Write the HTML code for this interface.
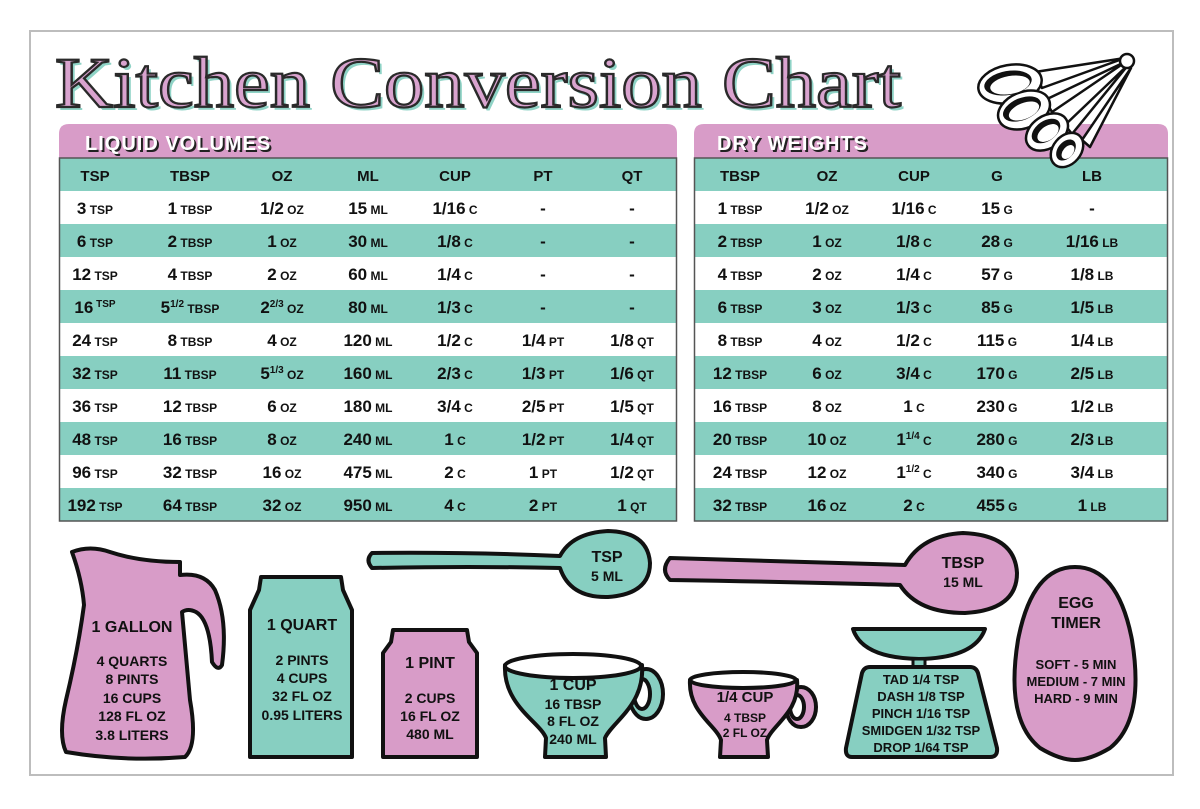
<!DOCTYPE html>
<html><head><meta charset="utf-8">
<style>
html,body{margin:0;padding:0;background:#fff;}
svg{display:block;}
text{font-family:"Liberation Sans",sans-serif;font-weight:bold;fill:#111;}
.n{font-size:17px;}
.u{font-size:12px;}
.s{font-size:10px;}
.h{font-size:15px;}
.t{font-size:14px;}
.b{font-size:16px;}
</style></head>
<body>
<svg width="1200" height="809" viewBox="0 0 1200 809" xmlns="http://www.w3.org/2000/svg">
<rect x="0" y="0" width="1200" height="809" fill="#fff"/>
<rect x="30" y="31" width="1143" height="744" fill="#fff" stroke="#bdbdbd" stroke-width="2"/>

<!-- Title -->
<text x="58" y="110" textLength="846" lengthAdjust="spacingAndGlyphs" style="font-family:'Liberation Serif',serif;font-weight:normal;font-size:72px;fill:#8fd3c6;">Kitchen Conversion Chart</text>
<text x="55" y="107" textLength="846" lengthAdjust="spacingAndGlyphs" style="font-family:'Liberation Serif',serif;font-weight:normal;font-size:72px;fill:#d9a3cf;stroke:#2a2a2a;stroke-width:2.2px;">Kitchen Conversion Chart</text>

<!-- LIQUID TABLE -->
<path d="M59 158 V134 Q59 124 69 124 H667 Q677 124 677 134 V158 Z" fill="#d89cc8"/>
<text x="87" y="152" style="font-size:20px;fill:#222;letter-spacing:1px;">LIQUID VOLUMES</text>
<text x="85" y="150" style="font-size:20px;fill:#fff;letter-spacing:1px;">LIQUID VOLUMES</text>
<g fill="#87cfc1">
<rect x="59" y="158" width="618" height="33"/>
<rect x="59" y="224" width="618" height="33"/>
<rect x="59" y="290" width="618" height="33"/>
<rect x="59" y="356" width="618" height="33"/>
<rect x="59" y="422" width="618" height="33"/>
<rect x="59" y="488" width="618" height="33"/>
</g>
<rect x="59.5" y="158" width="617" height="363" fill="none" stroke="#555" stroke-width="1.5"/>

<g text-anchor="middle">
<g transform="translate(0,181)" class="h">
<text x="95" class="h">TSP</text><text x="190" class="h">TBSP</text><text x="282" class="h">OZ</text><text x="368" class="h">ML</text><text x="455" class="h">CUP</text><text x="543" class="h">PT</text><text x="632" class="h">QT</text>
</g>
<g transform="translate(0,214)">
<text x="95" class="n">3<tspan class="u"> TSP</tspan></text><text x="190" class="n">1<tspan class="u"> TBSP</tspan></text><text x="282" class="n">1/2<tspan class="u"> OZ</tspan></text><text x="368" class="n">15<tspan class="u"> ML</tspan></text><text x="455" class="n">1/16<tspan class="u"> C</tspan></text><text x="543" class="n">-</text><text x="632" class="n">-</text>
</g>
<g transform="translate(0,247)">
<text x="95" class="n">6<tspan class="u"> TSP</tspan></text><text x="190" class="n">2<tspan class="u"> TBSP</tspan></text><text x="282" class="n">1<tspan class="u"> OZ</tspan></text><text x="368" class="n">30<tspan class="u"> ML</tspan></text><text x="455" class="n">1/8<tspan class="u"> C</tspan></text><text x="543" class="n">-</text><text x="632" class="n">-</text>
</g>
<g transform="translate(0,280)">
<text x="95" class="n">12<tspan class="u"> TSP</tspan></text><text x="190" class="n">4<tspan class="u"> TBSP</tspan></text><text x="282" class="n">2<tspan class="u"> OZ</tspan></text><text x="368" class="n">60<tspan class="u"> ML</tspan></text><text x="455" class="n">1/4<tspan class="u"> C</tspan></text><text x="543" class="n">-</text><text x="632" class="n">-</text>
</g>
<g transform="translate(0,313)">
<text x="95" class="n">16<tspan class="s" dy="-6"> TSP</tspan></text><text x="190" class="n">5<tspan class="s" dy="-6">1/2</tspan><tspan class="u" dy="6"> TBSP</tspan></text><text x="282" class="n">2<tspan class="s" dy="-6">2/3</tspan><tspan class="u" dy="6"> OZ</tspan></text><text x="368" class="n">80<tspan class="u"> ML</tspan></text><text x="455" class="n">1/3<tspan class="u"> C</tspan></text><text x="543" class="n">-</text><text x="632" class="n">-</text>
</g>
<g transform="translate(0,346)">
<text x="95" class="n">24<tspan class="u"> TSP</tspan></text><text x="190" class="n">8<tspan class="u"> TBSP</tspan></text><text x="282" class="n">4<tspan class="u"> OZ</tspan></text><text x="368" class="n">120<tspan class="u"> ML</tspan></text><text x="455" class="n">1/2<tspan class="u"> C</tspan></text><text x="543" class="n">1/4<tspan class="u"> PT</tspan></text><text x="632" class="n">1/8<tspan class="u"> QT</tspan></text>
</g>
<g transform="translate(0,379)">
<text x="95" class="n">32<tspan class="u"> TSP</tspan></text><text x="190" class="n">11<tspan class="u"> TBSP</tspan></text><text x="282" class="n">5<tspan class="s" dy="-6">1/3</tspan><tspan class="u" dy="6"> OZ</tspan></text><text x="368" class="n">160<tspan class="u"> ML</tspan></text><text x="455" class="n">2/3<tspan class="u"> C</tspan></text><text x="543" class="n">1/3<tspan class="u"> PT</tspan></text><text x="632" class="n">1/6<tspan class="u"> QT</tspan></text>
</g>
<g transform="translate(0,412)">
<text x="95" class="n">36<tspan class="u"> TSP</tspan></text><text x="190" class="n">12<tspan class="u"> TBSP</tspan></text><text x="282" class="n">6<tspan class="u"> OZ</tspan></text><text x="368" class="n">180<tspan class="u"> ML</tspan></text><text x="455" class="n">3/4<tspan class="u"> C</tspan></text><text x="543" class="n">2/5<tspan class="u"> PT</tspan></text><text x="632" class="n">1/5<tspan class="u"> QT</tspan></text>
</g>
<g transform="translate(0,445)">
<text x="95" class="n">48<tspan class="u"> TSP</tspan></text><text x="190" class="n">16<tspan class="u"> TBSP</tspan></text><text x="282" class="n">8<tspan class="u"> OZ</tspan></text><text x="368" class="n">240<tspan class="u"> ML</tspan></text><text x="455" class="n">1<tspan class="u"> C</tspan></text><text x="543" class="n">1/2<tspan class="u"> PT</tspan></text><text x="632" class="n">1/4<tspan class="u"> QT</tspan></text>
</g>
<g transform="translate(0,478)">
<text x="95" class="n">96<tspan class="u"> TSP</tspan></text><text x="190" class="n">32<tspan class="u"> TBSP</tspan></text><text x="282" class="n">16<tspan class="u"> OZ</tspan></text><text x="368" class="n">475<tspan class="u"> ML</tspan></text><text x="455" class="n">2<tspan class="u"> C</tspan></text><text x="543" class="n">1<tspan class="u"> PT</tspan></text><text x="632" class="n">1/2<tspan class="u"> QT</tspan></text>
</g>
<g transform="translate(0,511)">
<text x="95" class="n">192<tspan class="u"> TSP</tspan></text><text x="190" class="n">64<tspan class="u"> TBSP</tspan></text><text x="282" class="n">32<tspan class="u"> OZ</tspan></text><text x="368" class="n">950<tspan class="u"> ML</tspan></text><text x="455" class="n">4<tspan class="u"> C</tspan></text><text x="543" class="n">2<tspan class="u"> PT</tspan></text><text x="632" class="n">1<tspan class="u"> QT</tspan></text>
</g>
</g>

<!-- DRY TABLE -->
<path d="M694 158 V134 Q694 124 704 124 H1158 Q1168 124 1168 134 V158 Z" fill="#d89cc8"/>
<text x="719" y="152" style="font-size:20px;fill:#222;letter-spacing:1px;">DRY WEIGHTS</text>
<text x="717" y="150" style="font-size:20px;fill:#fff;letter-spacing:1px;">DRY WEIGHTS</text>
<g fill="#87cfc1">
<rect x="694" y="158" width="474" height="33"/>
<rect x="694" y="224" width="474" height="33"/>
<rect x="694" y="290" width="474" height="33"/>
<rect x="694" y="356" width="474" height="33"/>
<rect x="694" y="422" width="474" height="33"/>
<rect x="694" y="488" width="474" height="33"/>
</g>
<rect x="694.5" y="158" width="473" height="363" fill="none" stroke="#555" stroke-width="1.5"/>
<g text-anchor="middle">
<g transform="translate(0,181)">
<text x="740" class="h">TBSP</text><text x="827" class="h">OZ</text><text x="914" class="h">CUP</text><text x="997" class="h">G</text><text x="1092" class="h">LB</text>
</g>
<g transform="translate(0,214)"><text x="740" class="n">1<tspan class="u"> TBSP</tspan></text><text x="827" class="n">1/2<tspan class="u"> OZ</tspan></text><text x="914" class="n">1/16<tspan class="u"> C</tspan></text><text x="997" class="n">15<tspan class="u"> G</tspan></text><text x="1092" class="n">-</text></g>
<g transform="translate(0,247)"><text x="740" class="n">2<tspan class="u"> TBSP</tspan></text><text x="827" class="n">1<tspan class="u"> OZ</tspan></text><text x="914" class="n">1/8<tspan class="u"> C</tspan></text><text x="997" class="n">28<tspan class="u"> G</tspan></text><text x="1092" class="n">1/16<tspan class="u"> LB</tspan></text></g>
<g transform="translate(0,280)"><text x="740" class="n">4<tspan class="u"> TBSP</tspan></text><text x="827" class="n">2<tspan class="u"> OZ</tspan></text><text x="914" class="n">1/4<tspan class="u"> C</tspan></text><text x="997" class="n">57<tspan class="u"> G</tspan></text><text x="1092" class="n">1/8<tspan class="u"> LB</tspan></text></g>
<g transform="translate(0,313)"><text x="740" class="n">6<tspan class="u"> TBSP</tspan></text><text x="827" class="n">3<tspan class="u"> OZ</tspan></text><text x="914" class="n">1/3<tspan class="u"> C</tspan></text><text x="997" class="n">85<tspan class="u"> G</tspan></text><text x="1092" class="n">1/5<tspan class="u"> LB</tspan></text></g>
<g transform="translate(0,346)"><text x="740" class="n">8<tspan class="u"> TBSP</tspan></text><text x="827" class="n">4<tspan class="u"> OZ</tspan></text><text x="914" class="n">1/2<tspan class="u"> C</tspan></text><text x="997" class="n">115<tspan class="u"> G</tspan></text><text x="1092" class="n">1/4<tspan class="u"> LB</tspan></text></g>
<g transform="translate(0,379)"><text x="740" class="n">12<tspan class="u"> TBSP</tspan></text><text x="827" class="n">6<tspan class="u"> OZ</tspan></text><text x="914" class="n">3/4<tspan class="u"> C</tspan></text><text x="997" class="n">170<tspan class="u"> G</tspan></text><text x="1092" class="n">2/5<tspan class="u"> LB</tspan></text></g>
<g transform="translate(0,412)"><text x="740" class="n">16<tspan class="u"> TBSP</tspan></text><text x="827" class="n">8<tspan class="u"> OZ</tspan></text><text x="914" class="n">1<tspan class="u"> C</tspan></text><text x="997" class="n">230<tspan class="u"> G</tspan></text><text x="1092" class="n">1/2<tspan class="u"> LB</tspan></text></g>
<g transform="translate(0,445)"><text x="740" class="n">20<tspan class="u"> TBSP</tspan></text><text x="827" class="n">10<tspan class="u"> OZ</tspan></text><text x="914" class="n">1<tspan class="s" dy="-6">1/4</tspan><tspan class="u" dy="6"> C</tspan></text><text x="997" class="n">280<tspan class="u"> G</tspan></text><text x="1092" class="n">2/3<tspan class="u"> LB</tspan></text></g>
<g transform="translate(0,478)"><text x="740" class="n">24<tspan class="u"> TBSP</tspan></text><text x="827" class="n">12<tspan class="u"> OZ</tspan></text><text x="914" class="n">1<tspan class="s" dy="-6">1/2</tspan><tspan class="u" dy="6"> C</tspan></text><text x="997" class="n">340<tspan class="u"> G</tspan></text><text x="1092" class="n">3/4<tspan class="u"> LB</tspan></text></g>
<g transform="translate(0,511)"><text x="740" class="n">32<tspan class="u"> TBSP</tspan></text><text x="827" class="n">16<tspan class="u"> OZ</tspan></text><text x="914" class="n">2<tspan class="u"> C</tspan></text><text x="997" class="n">455<tspan class="u"> G</tspan></text><text x="1092" class="n">1<tspan class="u"> LB</tspan></text></g>
</g>

<!-- measuring spoons icon (drawn over header) -->
<g fill="#fff" stroke="#111" stroke-width="2.5" stroke-linejoin="round">
<path d="M1125 58 L1035 72 L1042 88 Z"/>
<path d="M1127 61 L1045 100 L1052 112 Z"/>
<path d="M1129 64 L1065 125 L1072 134 Z"/>
<path d="M1131 68 L1082 140 L1090 147 Z"/>
<ellipse cx="1010" cy="84" rx="32" ry="19" transform="rotate(-10 1010 84)"/>
<ellipse cx="1024" cy="110" rx="27" ry="18" transform="rotate(-22 1024 110)"/>
<ellipse cx="1047" cy="132" rx="23" ry="16" transform="rotate(-35 1047 132)"/>
<ellipse cx="1067" cy="150" rx="19" ry="14" transform="rotate(-50 1067 150)"/>
<circle cx="1127" cy="61" r="7"/>
</g>
<g fill="#111">
<ellipse cx="1008" cy="83" rx="24" ry="12" transform="rotate(-10 1008 83)"/>
<ellipse cx="1022" cy="109" rx="20" ry="11" transform="rotate(-22 1022 109)"/>
<ellipse cx="1046" cy="131" rx="16" ry="10" transform="rotate(-35 1046 131)"/>
<ellipse cx="1066" cy="150" rx="12" ry="8" transform="rotate(-50 1066 150)"/>
</g>
<g fill="#fff">
<ellipse cx="1010" cy="85" rx="20" ry="9" transform="rotate(-10 1010 85)"/>
<ellipse cx="1024" cy="111" rx="16" ry="8" transform="rotate(-22 1024 111)"/>
<ellipse cx="1048" cy="133" rx="12" ry="7" transform="rotate(-35 1048 133)"/>
<ellipse cx="1068" cy="152" rx="8" ry="5" transform="rotate(-50 1068 152)"/>
</g>

<!-- BOTTOM SHAPES -->
<g stroke="#111" stroke-width="4" stroke-linejoin="round">
<!-- pitcher -->
<path fill="#d89cc8" d="M72 552 Q90 545 110 552 Q140 562 180 562 L180 575 Q205 572 215 590 Q228 620 222 665 Q218 672 212 662 Q210 620 196 612 Q188 608 182 612 L190 700 Q198 745 185 757 Q125 762 66 752 Q58 735 66 700 Q78 650 84 605 Q82 580 72 552 Z"/>
<!-- quart -->
<path fill="#87cfc1" d="M261 577 H341 L343 590 L352 610 V757 H250 V610 L259 590 Z"/>
<!-- pint -->
<path fill="#d89cc8" d="M393 630 H467 L469 642 L477 653 V757 H383 V653 L391 642 Z"/>
<!-- tsp spoon -->
<path fill="#87cfc1" d="M372 553 Q365 560 372 568 Q470 566 560 568 Q570 598 608 597 Q650 594 650 563 Q648 532 608 531 Q572 533 560 556 Q470 552 372 553 Z"/>
<!-- tbsp spoon -->
<path fill="#d89cc8" d="M670 558 Q660 570 670 580 Q800 582 900 585 Q918 613 965 613 Q1017 610 1017 573 Q1015 535 963 533 Q922 535 905 565 Q800 562 670 558 Z"/>
<!-- 1 cup handle -->
<ellipse cx="646" cy="694" rx="17" ry="25" fill="#87cfc1"/>
<ellipse cx="642" cy="694" rx="8" ry="15" fill="#fff"/>
<!-- 1 cup body -->
<path fill="#87cfc1" d="M505 665 C503 705 540 722 546 738 L545 757 H606 L605 738 C612 722 645 705 642 665 Z"/>
<ellipse cx="573" cy="666" rx="68" ry="12" fill="#fff"/>
<!-- 1/4 cup handle -->
<ellipse cx="801" cy="707" rx="15" ry="20" fill="#d89cc8"/>
<ellipse cx="797" cy="707" rx="7" ry="12" fill="#fff"/>
<!-- 1/4 cup body -->
<path fill="#d89cc8" d="M690 680 C688 712 716 725 721 740 L720 757 H768 L767 740 C772 725 800 712 797 680 Z"/>
<ellipse cx="743" cy="680" rx="53" ry="8" fill="#fff"/>
<!-- scale -->
<path fill="#87cfc1" d="M853 629 H985 Q975 658 919 659 Q862 658 853 629 Z"/>
<rect x="913" y="659" width="12" height="9" fill="#87cfc1" stroke-width="3"/>
<path fill="#87cfc1" d="M870 667 H970 Q976 667 978 673 L997 748 Q998 757 990 757 H852 Q845 757 846 748 L862 673 Q864 667 870 667 Z"/>
<!-- egg -->
<path fill="#d89cc8" d="M1075 567 Q1118 567 1132 640 Q1145 720 1110 748 Q1090 760 1075 760 Q1060 760 1040 748 Q1005 720 1018 640 Q1032 567 1075 567 Z"/>
</g>

<g text-anchor="middle">
<text x="132" y="632" class="b">1 GALLON</text>
<text x="132" y="666" class="t">4 QUARTS</text>
<text x="132" y="684" class="t">8 PINTS</text>
<text x="132" y="703" class="t">16 CUPS</text>
<text x="132" y="721" class="t">128 FL OZ</text>
<text x="132" y="740" class="t">3.8 LITERS</text>

<text x="302" y="630" class="b">1 QUART</text>
<text x="302" y="665" class="t">2 PINTS</text>
<text x="302" y="683" class="t">4 CUPS</text>
<text x="302" y="701" class="t">32 FL OZ</text>
<text x="302" y="720" class="t">0.95 LITERS</text>

<text x="430" y="668" class="b">1 PINT</text>
<text x="430" y="703" class="t">2 CUPS</text>
<text x="430" y="721" class="t">16 FL OZ</text>
<text x="430" y="739" class="t">480 ML</text>

<text x="607" y="562" class="b">TSP</text>
<text x="607" y="581" class="t">5 ML</text>
<text x="963" y="568" class="b">TBSP</text>
<text x="963" y="587" class="t">15 ML</text>

<text x="573" y="690" class="b">1 CUP</text>
<text x="573" y="709" class="t">16 TBSP</text>
<text x="573" y="726" class="t">8 FL OZ</text>
<text x="573" y="744" class="t">240 ML</text>

<text x="745" y="702" class="t" style="font-size:15px">1/4 CUP</text>
<text x="745" y="722" style="font-size:12px">4 TBSP</text>
<text x="745" y="737" style="font-size:12px">2 FL OZ</text>

<text x="921" y="684" style="font-size:13px">TAD 1/4 TSP</text>
<text x="921" y="701" style="font-size:13px">DASH 1/8 TSP</text>
<text x="921" y="718" style="font-size:13px">PINCH 1/16 TSP</text>
<text x="921" y="735" style="font-size:13px">SMIDGEN 1/32 TSP</text>
<text x="921" y="752" style="font-size:13px">DROP 1/64 TSP</text>

<text x="1076" y="608" class="b">EGG</text>
<text x="1076" y="628" class="b">TIMER</text>
<text x="1076" y="669" style="font-size:13px">SOFT - 5 MIN</text>
<text x="1076" y="686" style="font-size:13px">MEDIUM - 7 MIN</text>
<text x="1076" y="703" style="font-size:13px">HARD - 9 MIN</text>
</g>
</svg>
</body></html>
